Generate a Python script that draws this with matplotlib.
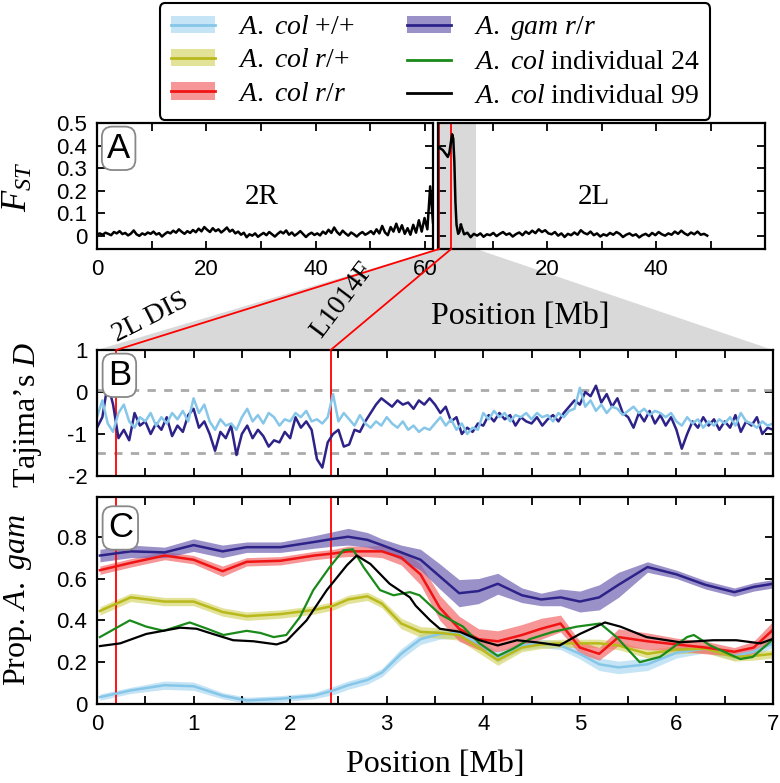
import numpy as np
import matplotlib
matplotlib.use('Agg')
import matplotlib.pyplot as plt
from matplotlib.patches import Patch, Polygon
from matplotlib.lines import Line2D

plt.rcParams['font.family'] = ['Liberation Serif', 'DejaVu Serif']
plt.rcParams['mathtext.fontset'] = 'custom'
plt.rcParams['mathtext.rm'] = 'Liberation Serif'
plt.rcParams['mathtext.it'] = 'Liberation Serif:italic'
plt.rcParams['mathtext.bf'] = 'Liberation Serif:bold'

# ---- panel A: Fst along 2R and 2L (Mb) ----
fst_2r = [0.008, 0.012, 0.006, 0.015, 0.010, 0.004, 0.018, 0.012, 0.022, 0.009, 0.014, 0.003, 0.011, 0.025, 0.008,
          0.001, 0.012, 0.006, 0.016, 0.010, 0.020,
          0.007, 0.013, -0.002, 0.009, 0.018, 0.012, 0.024, 0.015, 0.030, 0.019, 0.010, 0.022, 0.014, 0.027, 0.017,
          0.033, 0.021, 0.040, 0.028,
          0.018, 0.035, 0.022, 0.030, 0.016, 0.026, 0.038, 0.020, 0.028, 0.012, 0.020, 0.006, 0.015, -0.005, 0.008,
          0.002, 0.012, -0.003, 0.006,
          0.014, 0.004, 0.018, 0.008, -0.002, 0.010, 0.020, 0.012, 0.025, 0.006, 0.016, 0.002, 0.011, 0.022, 0.009,
          -0.004, 0.008, 0.015, 0.005,
          0.012, 0.003, 0.020, 0.010, 0.028, 0.014, 0.038, 0.018, 0.006, 0.024, 0.012, 0.002, 0.016, 0.008, -0.002,
          0.010, 0.018, 0.006, 0.013,
          0.022, 0.009, 0.030, 0.012, 0.045, 0.016, 0.004, 0.040, 0.020, 0.055, 0.018, 0.048, 0.010, 0.035, 0.006,
          0.050, 0.015, 0.070, 0.020, 0.080, 0.030, 0.220, 0.060]
pos_2r = np.linspace(0, 61.5, len(fst_2r))

peak_pos_2l = [0.0, 0.3, 0.6, 0.9, 1.2, 1.5, 1.8, 2.1, 2.4, 2.6, 2.8, 3.0, 3.2, 3.4, 3.7, 3.9]
peak_fst_2l = [0.40, 0.39, 0.385, 0.38, 0.37, 0.36, 0.35, 0.37, 0.42, 0.45, 0.43, 0.33, 0.15, 0.05, 0.01, 0.02]
tail_fst_2l = [0.050, 0.008, 0.015, -0.005, 0.010, 0.002, 0.012, -0.003, 0.008, 0.004, 0.014, 0.000, 0.010, 0.018,
               0.006, 0.012, -0.002, 0.009, 0.016, 0.004, 0.020, 0.010, 0.024, 0.013, 0.030, 0.018, 0.026, 0.012,
               0.008, 0.018, 0.002, 0.012, -0.004, 0.010, 0.004, 0.016, 0.006, 0.026, 0.014, 0.008, 0.020, 0.004,
               0.012, -0.002, 0.008, 0.002, 0.014, 0.006, 0.018, 0.010, -0.004, 0.006, 0.012, 0.002, 0.008, -0.006,
               0.004, 0.010, 0.000, 0.014, 0.004, 0.018, 0.008, 0.002, 0.012, 0.006, 0.020, 0.010, 0.024, 0.012,
               0.004, 0.016, 0.008, 0.020, 0.006, 0.010, 0.002]
tail_pos_2l = np.linspace(4.2, 49.4, len(tail_fst_2l))

# ---- panel B: Tajima's D ----
tajd_gam = [-0.85, -0.6, 0.2, -0.3, -1.1, -0.9, -1.15, -0.5, -0.8,
            -0.7, -1.0, -0.75, -0.9, -0.6, -1.05, -0.8, -0.95, -0.55,
            -0.4, -0.85, -0.7, -1.0, -1.4, -0.95, -1.1, -0.8, -1.5,
            -1.0, -0.8, -1.1, -0.9, -1.05, -1.3, -1.15, -1.2, -0.95,
            -1.1, -0.6, -0.85, -0.7, -0.9, -1.6, -1.8, -1.2, -1.0,
            -0.9, -1.3, -1.25, -0.9, -0.95, -0.7, -0.5, -0.3, -0.15,
            -0.25, -0.35, -0.2, -0.3, -0.25, -0.4, -0.2, -0.3, -0.15,
            -0.3, -0.5, -0.35, -0.7, -0.6, -1.0, -0.85, -0.95, -0.75,
            -0.8, -0.55, -0.7, -0.5, -0.65, -0.55, -0.8, -0.6, -0.7,
            -0.75, -0.6, -0.8, -0.65, -0.55, -0.7, -0.5, -0.35, -0.2,
            -0.3, 0.0, -0.1, 0.15, -0.25, -0.05, -0.35, -0.15, -0.5,
            -0.6, -0.85, -0.5, -0.7, -0.45, -0.75, -0.55, -0.8, -0.6,
            -0.9, -1.35, -1.0, -0.7, -0.85, -0.6, -0.8, -0.65, -0.9,
            -0.7, -0.85, -0.55, -0.95, -0.7, -0.8, -0.6, -1.0, -0.85, -0.9]
tajd_col = [-0.6, -0.2, -0.75, -0.95, -0.5, -0.3, -0.7, -0.85, -0.6,
            -0.7, -0.5, -0.8, -0.6, -0.75, -0.5, -0.65, -0.45, -0.7,
            -0.15, -0.5, -0.3, -0.7, -0.9, -0.65, -0.8, -0.75, -0.9,
            -0.6, -0.4, -0.7, -0.55, -0.75, -0.5, -0.6, -0.8, -0.65,
            -0.7, -0.5, -0.6, -0.45, -0.7, -0.65, -0.75, -0.6, -0.05,
            -0.7, -0.5, -0.65, -0.8, -0.55, -0.75, -0.85, -0.7, -0.8,
            -0.6, -0.75, -0.85, -0.7, -0.9, -0.8, -0.95, -0.85, -0.9,
            -0.75, -0.6, -0.8, -0.65, -0.9, -0.75, -1.0, -0.85, -0.9,
            -0.5, -0.65, -0.45, -0.6, -0.5, -0.7, -0.55, -0.6, -0.5,
            -0.65, -0.5, -0.6, -0.55, -0.7, -0.5, -0.6, -0.45, -0.4,
            0.1, -0.35, -0.2, -0.45, -0.3, -0.5, -0.35, -0.4, -0.55,
            -0.45, -0.35, -0.5, -0.4, -0.55, -0.45, -0.5, -0.6, -0.5,
            -0.7, -0.8, -0.6, -0.75, -0.65, -0.85, -0.7, -0.8, -0.65,
            -0.75, -0.6, -0.8, -0.5, -0.7, -0.75, -0.85, -0.7, -0.8, -0.75]
pos_b = np.linspace(0, 7, len(tajd_gam))

# ---- panel C: proportion A. gam ancestry ----
pos_c = [0.03, 0.35, 0.7, 1.0, 1.3, 1.55, 1.9, 2.25, 2.45, 2.6, 2.8, 2.95, 3.15, 3.35, 3.55,
         3.75, 3.95, 4.15, 4.4, 4.6, 4.8, 5.0, 5.2, 5.4, 5.7, 6.0, 6.3, 6.6, 6.8, 7.0]
gam_rr = [0.71, 0.73, 0.725, 0.76, 0.73, 0.75, 0.75, 0.775, 0.79, 0.80, 0.785, 0.76, 0.725, 0.69, 0.61,
          0.53, 0.54, 0.575, 0.52, 0.50, 0.51, 0.49, 0.51, 0.57, 0.655, 0.62, 0.57, 0.535, 0.56, 0.575]
gam_rr_err = [0.03, 0.03, 0.025, 0.03, 0.03, 0.025, 0.025, 0.03, 0.035, 0.04, 0.035, 0.03, 0.035, 0.05, 0.06,
              0.065, 0.06, 0.05, 0.035, 0.03, 0.04, 0.05, 0.06, 0.06, 0.025, 0.02, 0.02, 0.02, 0.02, 0.02]
col_rr = [0.64, 0.675, 0.71, 0.69, 0.635, 0.68, 0.685, 0.71, 0.72, 0.73, 0.73, 0.73, 0.70, 0.62, 0.46,
          0.36, 0.31, 0.30, 0.33, 0.36, 0.385, 0.27, 0.24, 0.32, 0.30, 0.285, 0.27, 0.25, 0.27, 0.355]
col_rr_err = [0.02, 0.02, 0.02, 0.02, 0.025, 0.02, 0.02, 0.02, 0.02, 0.025, 0.025, 0.03, 0.035, 0.05, 0.06,
              0.06, 0.05, 0.05, 0.05, 0.05, 0.04, 0.03, 0.03, 0.04, 0.04, 0.03, 0.03, 0.02, 0.03, 0.04]
col_rp = [0.445, 0.51, 0.49, 0.49, 0.44, 0.42, 0.43, 0.45, 0.47, 0.50, 0.515, 0.48, 0.385, 0.345, 0.34,
          0.33, 0.27, 0.21, 0.27, 0.285, 0.29, 0.29, 0.29, 0.28, 0.24, 0.26, 0.265, 0.225, 0.23, 0.24]
col_rp_err = [0.02, 0.02, 0.02, 0.02, 0.02, 0.02, 0.02, 0.02, 0.02, 0.02, 0.02, 0.02, 0.025, 0.025, 0.025,
              0.025, 0.025, 0.025, 0.02, 0.02, 0.02, 0.02, 0.02, 0.02, 0.02, 0.02, 0.02, 0.02, 0.02, 0.02]
col_pp = [0.033, 0.065, 0.09, 0.085, 0.04, 0.017, 0.025, 0.04, 0.065, 0.09, 0.115, 0.15, 0.24, 0.31, 0.335,
          0.34, 0.29, 0.225, 0.28, 0.29, 0.28, 0.24, 0.19, 0.175, 0.19, 0.245, 0.265, 0.23, 0.25, 0.29]
col_pp_err = [0.015, 0.015, 0.02, 0.02, 0.015, 0.015, 0.015, 0.015, 0.02, 0.02, 0.02, 0.02, 0.025, 0.025, 0.025,
              0.025, 0.025, 0.025, 0.02, 0.02, 0.02, 0.025, 0.03, 0.03, 0.03, 0.025, 0.02, 0.02, 0.02, 0.02]

ind24_pos = [0.03, 0.34, 0.51, 0.69, 0.96, 1.14, 1.31, 1.55, 1.69, 1.83, 1.96, 2.1, 2.24, 2.41, 2.55, 2.65,
             2.76, 2.93, 3.07, 3.24, 3.34, 3.55, 3.79, 3.96, 4.15, 4.31, 4.48, 4.72, 4.97, 5.21, 5.38, 5.62,
             5.83, 6.11, 6.18, 6.35, 6.66, 6.79, 6.99]
ind24 = [0.32, 0.40, 0.37, 0.35, 0.39, 0.36, 0.33, 0.35, 0.34, 0.32, 0.33, 0.415, 0.545, 0.655, 0.735, 0.74,
         0.655, 0.545, 0.52, 0.535, 0.52, 0.43, 0.37, 0.29, 0.23, 0.265, 0.31, 0.345, 0.37, 0.385, 0.32, 0.20,
         0.225, 0.32, 0.33, 0.28, 0.215, 0.225, 0.305]
ind99_pos = [0.03, 0.24, 0.51, 0.86, 1.03, 1.2, 1.41, 1.62, 1.86, 1.96, 2.17, 2.38, 2.59, 2.69, 2.83, 3.03,
             3.24, 3.3, 3.45, 3.55, 3.76, 3.96, 4.15, 4.35, 4.55, 4.79, 5.0, 5.26, 5.42, 5.69, 6.04, 6.38,
             6.62, 6.87, 6.99]
ind99 = [0.277, 0.29, 0.335, 0.365, 0.36, 0.335, 0.305, 0.30, 0.285, 0.30, 0.40, 0.545, 0.665, 0.71, 0.67, 0.575,
         0.51, 0.47, 0.40, 0.36, 0.345, 0.305, 0.28, 0.305, 0.295, 0.28, 0.335, 0.39, 0.37, 0.32, 0.295, 0.305,
         0.305, 0.29, 0.31]

marks = [0.2, 2.42]  # 2L DIS, L1014F
mark_labels = ['2L DIS', 'L1014F']

c_pp, c_rp, c_rr, c_gam = '#86c6e8', '#b9b91c', '#f01414', '#2c2288'
b_pp, b_rp, b_rr, b_gam = '#9fd3ef', '#cfcf55', '#f56a6a', '#7a6cb8'
grey = '#d9d9d9'

W, H = 780.0, 783.0
fig = plt.figure(figsize=(7.8, 7.83), dpi=100)


def box(x0, y0, x1, y1):
    return [x0 / W, 1 - y1 / H, (x1 - x0) / W, (y1 - y0) / H]


def style(ax):
    for s in ax.spines.values():
        s.set_linewidth(1.6)
    ax.tick_params(which='both', direction='in', top=True, right=True, length=6, width=1.3,
                   labelsize=16, labelfontfamily='Liberation Sans', pad=7)


axR = fig.add_axes(box(97, 123, 433, 249))
axL = fig.add_axes(box(438, 123, 765, 249))
axB = fig.add_axes(box(97, 350, 773, 476))
axC = fig.add_axes(box(97, 497, 773, 704))
for ax in (axR, axL, axB, axC):
    style(ax)

# panel A
yA = (-0.057, 0.5)
axR.plot(pos_2r, fst_2r, color='k', lw=1.8)
axR.set_xlim(0, 61.5)
axR.set_ylim(*yA)
axR.set_xticks([0, 20, 40, 60])
axR.set_xticks([10, 30, 50], minor=True)
axR.set_yticks([0, 0.1, 0.2, 0.3, 0.4, 0.5])
axR.set_yticklabels(['0', '0.1', '0.2', '0.3', '0.4', '0.5'])
axR.text(0.49, 0.41, '2R', transform=axR.transAxes, fontsize=21, ha='center', va='center')

axL.axvspan(0, 7, color=grey, lw=0, zorder=0)
for m in marks:
    axL.axvline(m, color='red', lw=1.3)
axL.plot(peak_pos_2l, peak_fst_2l, color='k', lw=1.8)
axL.plot(tail_pos_2l, tail_fst_2l, color='k', lw=1.8)
axL.plot([peak_pos_2l[-1], tail_pos_2l[0]], [peak_fst_2l[-1], tail_fst_2l[0]], color='k', lw=1.8)
axL.set_xlim(0, 60)
axL.set_ylim(*yA)
axL.set_xticks([20, 40])
axL.set_xticks([10, 30, 50], minor=True)
axL.set_yticks([0, 0.1, 0.2, 0.3, 0.4, 0.5])
axL.tick_params(labelleft=False)
axL.text(0.477, 0.41, '2L', transform=axL.transAxes, fontsize=21, ha='center', va='center')

# panel B
for yv in (0.05, -1.45):
    axB.axhline(yv, color='#aaaaaa', lw=2, ls=(0, (3, 3)))
for m in marks:
    axB.axvline(m, color='red', lw=1.3)
axB.plot(pos_b, tajd_gam, color=c_gam, lw=1.8)
axB.plot(pos_b, tajd_col, color=c_pp, lw=1.8)
axB.set_xlim(0, 7)
axB.set_ylim(-2, 1)
axB.set_xticks(range(8))
axB.set_xticks(np.arange(0.5, 7, 1), minor=True)
axB.set_yticks([-2, -1, 0, 1])
axB.set_yticklabels(['-2', '-1', '0', '1'])
axB.tick_params(labelbottom=False)

# panel C
for m in marks:
    axC.axvline(m, color='red', lw=1.3)
series = [(col_pp, col_pp_err, c_pp, b_pp, 0.6), (col_rp, col_rp_err, c_rp, b_rp, 0.6),
          (col_rr, col_rr_err, c_rr, b_rr, 0.7), (gam_rr, gam_rr_err, c_gam, b_gam, 0.75)]
for vals, err, lc, bc, al in series:
    v = np.array(vals)
    e = np.array(err)
    axC.fill_between(pos_c, v - e, v + e, color=bc, alpha=al, lw=0)
for vals, err, lc, bc, al in series:
    axC.plot(pos_c, vals, color=lc, lw=1.8)
axC.plot(ind24_pos, ind24, color='#1a8a1a', lw=1.6)
axC.plot(ind99_pos, ind99, color='k', lw=1.6)
axC.set_xlim(0, 7)
axC.set_ylim(0, 0.99)
axC.set_xticks(range(8))
axC.set_xticks(np.arange(0.5, 7, 1), minor=True)
axC.set_yticks([0, 0.2, 0.4, 0.6, 0.8])
axC.set_yticklabels(['0', '0.2', '0.4', '0.6', '0.8'])

# panel letters
for ax, lab, x in ((axR, 'A', 0.03), (axB, 'B', 0.016), (axC, 'C', 0.016)):
    ax.text(x, 0.93, lab, transform=ax.transAxes, fontsize=25, family='Liberation Sans', ha='left', va='top',
            zorder=10, bbox=dict(boxstyle='round,pad=0.15,rounding_size=0.3', fc='white', ec='#888888', lw=1.3))

# zoom projection from 2L to panel B
inv = fig.transFigure.inverted()


def fpt(ax, x, y):
    return inv.transform(ax.transData.transform((x, y)))


poly = Polygon([fpt(axL, 0, yA[0]), fpt(axL, 7, yA[0]), fpt(axB, 7, 1), fpt(axB, 0, 1)],
               closed=True, transform=fig.transFigure, fc=grey, ec='none', zorder=0)
fig.add_artist(poly)
for m in marks:
    p0 = fpt(axL, m, yA[0])
    p1 = fpt(axB, m, 1)
    fig.add_artist(Line2D([p0[0], p1[0]], [p0[1], p1[1]], transform=fig.transFigure, color='red', lw=1.3))

fig.text(150 / W, 1 - 318 / H, mark_labels[0], fontsize=20, rotation=27, ha='center', va='center')
fig.text(342 / W, 1 - 300 / H, mark_labels[1], fontsize=20, rotation=53, ha='center', va='center')
fig.text(520 / W, 1 - 316 / H, 'Position [Mb]', fontsize=23, ha='center', va='center')
fig.text(435 / W, 1 - 765 / H, 'Position [Mb]', fontsize=23, ha='center', va='center')

fig.text(18 / W, 1 - 187 / H, r'$F_{ST}$', fontsize=25, rotation=90, ha='center', va='center')
fig.text(28 / W, 1 - 415 / H, 'Tajima\u2019s $\\it{D}$', fontsize=23, rotation=90, ha='center', va='center')
fig.text(18 / W, 1 - 600 / H, 'Prop. $\\it{A.\\ gam}$', fontsize=23, rotation=90, ha='center', va='center')

# legend
labels = ['$\\it{A.\\ col}$ +/+', '$\\it{A.\\ col\\ r/}$+', '$\\it{A.\\ col\\ r/r}$',
          '$\\it{A.\\ gam\\ r/r}$', '$\\it{A.\\ col}$ individual 24', '$\\it{A.\\ col}$ individual 99']
handles = [(Patch(fc=b_pp, alpha=0.6, lw=0), Line2D([], [], color=c_pp, lw=2)),
           (Patch(fc=b_rp, alpha=0.6, lw=0), Line2D([], [], color=c_rp, lw=2)),
           (Patch(fc=b_rr, alpha=0.7, lw=0), Line2D([], [], color=c_rr, lw=2)),
           (Patch(fc=b_gam, alpha=0.75, lw=0), Line2D([], [], color=c_gam, lw=2)),
           Line2D([], [], color='#1a8a1a', lw=2), Line2D([], [], color='k', lw=2)]
leg = fig.legend(handles, labels, loc='upper center', bbox_to_anchor=(435 / W, 1 - 3 / H), ncol=2,
                 fontsize=20, frameon=True, fancybox=True, edgecolor='k', framealpha=1,
                 handlelength=1.6, handleheight=0.6, columnspacing=1.9, handletextpad=0.8,
                 borderpad=0.4, labelspacing=0.3, borderaxespad=0)
leg.get_frame().set_linewidth(1.5)

fig.savefig('out.png', dpi=100)
